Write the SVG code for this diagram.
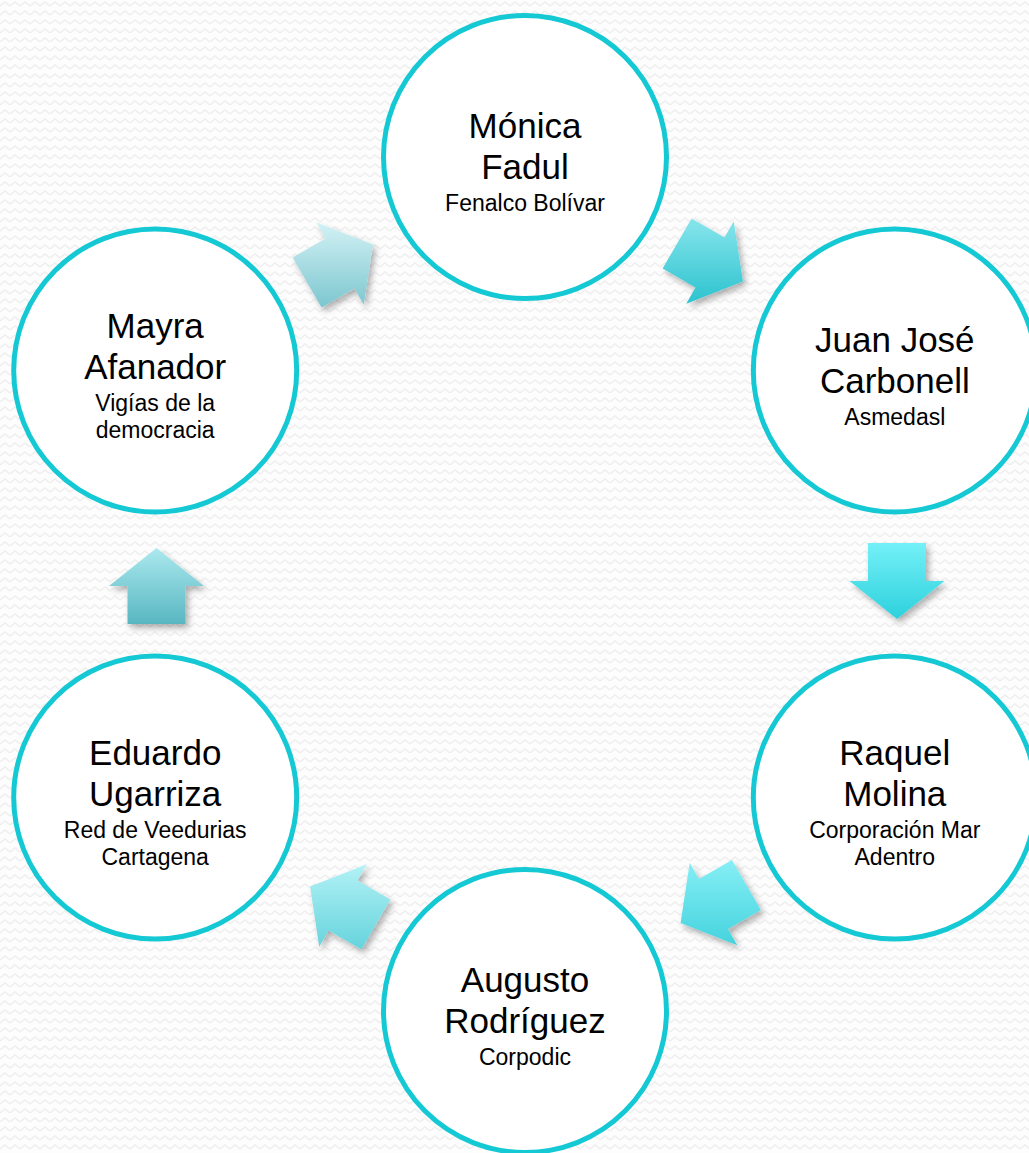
<svg xmlns="http://www.w3.org/2000/svg" width="1029" height="1153" viewBox="0 0 1029 1153">
<style>
.node circle{fill:#ffffff;stroke:#14c8d4;stroke-width:5}
.main{font-family:"Liberation Sans",Arial,sans-serif;font-size:35px;fill:#000;text-anchor:middle}
.sub{font-family:"Liberation Sans",Arial,sans-serif;font-size:23px;fill:#000;text-anchor:middle}
.arrow{filter:url(#sh)}
</style>
<defs>
<pattern id="zz" width="10" height="9" patternUnits="userSpaceOnUse">
<rect width="10" height="9" fill="#fdfdfd"/>
<path d="M0 6 L5 2 L10 6" fill="none" stroke="#efefef" stroke-width="1.6"/>
</pattern>
<filter id="sh" x="-30%" y="-30%" width="160%" height="160%">
<feDropShadow dx="3" dy="4" stdDeviation="3" flood-color="#000" flood-opacity="0.3"/>
</filter>
<linearGradient id="g1" x1="0" y1="0" x2="0" y2="1"><stop offset="0" stop-color="#d3f2f5"/><stop offset="1" stop-color="#7cc6cf"/></linearGradient>
<linearGradient id="g2" x1="0" y1="0" x2="0" y2="1"><stop offset="0" stop-color="#88e5ec"/><stop offset="1" stop-color="#2cc3cf"/></linearGradient>
<linearGradient id="g3" x1="0" y1="0" x2="0" y2="1"><stop offset="0" stop-color="#74f0f7"/><stop offset="1" stop-color="#2dd1dd"/></linearGradient>
<linearGradient id="g4" x1="0" y1="0" x2="0" y2="1"><stop offset="0" stop-color="#86eff5"/><stop offset="1" stop-color="#45d3de"/></linearGradient>
<linearGradient id="g5" x1="0" y1="0" x2="0" y2="1"><stop offset="0" stop-color="#b2f2f6"/><stop offset="1" stop-color="#66d3dc"/></linearGradient>
<linearGradient id="g6" x1="0" y1="0" x2="0" y2="1"><stop offset="0" stop-color="#abe9ee"/><stop offset="1" stop-color="#58b6c1"/></linearGradient>
</defs>
<rect width="1029" height="1153" fill="url(#zz)"/>

<g id="connectors">
<polygon class="arrow" fill="url(#g1)" points="292.59,257.39 325.5,238.39 316.25,222.36 372.91,244.5 363.75,304.64 354.5,288.61 321.59,307.61"/>
<polygon class="arrow" fill="url(#g2)" points="691.59,218.39 724.5,237.39 733.75,221.36 742.91,281.5 686.25,303.64 695.5,287.61 662.59,268.61"/>
<polygon class="arrow" fill="url(#g3)" points="926,543 926,581 944.5,581 897,619 849.5,581 868,581 868,543"/>
<polygon class="arrow" fill="url(#g4)" points="760.91,910.11 728,929.11 737.25,945.14 680.59,923 689.75,862.86 699,878.89 731.91,859.89"/>
<polygon class="arrow" fill="url(#g5)" points="361.41,949.61 328.5,930.61 319.25,946.64 310.09,886.5 366.75,864.36 357.5,880.39 390.41,899.39"/>
<polygon class="arrow" fill="url(#g6)" points="127.5,624 127.5,586 109,586 156.5,548 204,586 185.5,586 185.5,624"/>
</g>

<g id="node-monica" class="node">
<circle cx="525" cy="157" r="141.5"/>
<text class="main" x="525" y="138">Mónica</text>
<text class="main" x="525" y="179">Fadul</text>
<text class="sub" x="525" y="211">Fenalco Bolívar</text>
</g>

<g id="node-juan" class="node">
<circle cx="894.8" cy="370.5" r="141.5"/>
<text class="main" x="894.8" y="351.5">Juan José</text>
<text class="main" x="894.8" y="392.5">Carbonell</text>
<text class="sub" x="894.8" y="424.5">Asmedasl</text>
</g>

<g id="node-raquel" class="node">
<circle cx="894.8" cy="797.5" r="141.5"/>
<text class="main" x="894.8" y="765">Raquel</text>
<text class="main" x="894.8" y="806">Molina</text>
<text class="sub" x="894.8" y="838">Corporación Mar</text>
<text class="sub" x="894.8" y="865">Adentro</text>
</g>

<g id="node-augusto" class="node">
<circle cx="525" cy="1011" r="141.5"/>
<text class="main" x="525" y="992">Augusto</text>
<text class="main" x="525" y="1033">Rodríguez</text>
<text class="sub" x="525" y="1065">Corpodic</text>
</g>

<g id="node-eduardo" class="node">
<circle cx="155.2" cy="797.5" r="141.5"/>
<text class="main" x="155.2" y="765">Eduardo</text>
<text class="main" x="155.2" y="806">Ugarriza</text>
<text class="sub" x="155.2" y="838">Red de Veedurias</text>
<text class="sub" x="155.2" y="865">Cartagena</text>
</g>

<g id="node-mayra" class="node">
<circle cx="155.2" cy="370.5" r="141.5"/>
<text class="main" x="155.2" y="338">Mayra</text>
<text class="main" x="155.2" y="379">Afanador</text>
<text class="sub" x="155.2" y="411">Vigías de la</text>
<text class="sub" x="155.2" y="438">democracia</text>
</g>
</svg>
